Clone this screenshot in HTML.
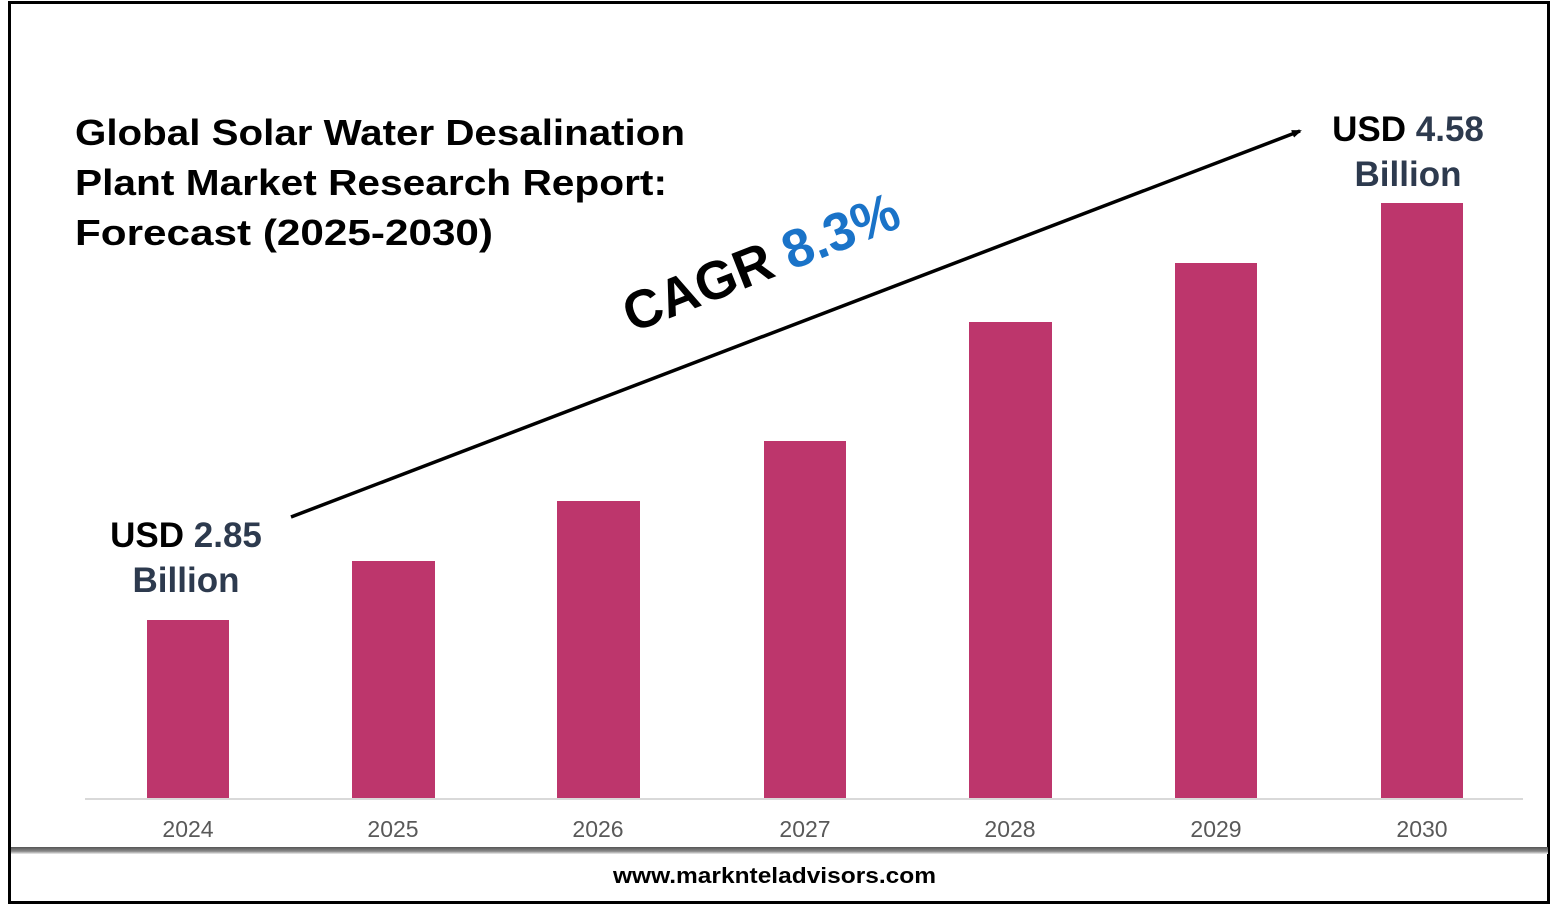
<!DOCTYPE html>
<html><head><style>html,body{margin:0;padding:0;background:#fff}svg{display:block}</style></head>
<body>
<svg width="1557" height="906" xmlns="http://www.w3.org/2000/svg" font-family="Liberation Sans, sans-serif">
<defs>
<linearGradient id="sh" x1="0" y1="0" x2="0" y2="1">
<stop offset="0" stop-color="#555"/><stop offset="0.6" stop-color="#888"/><stop offset="1" stop-color="#eee"/>
</linearGradient>
<marker id="ah" markerWidth="10" markerHeight="8" refX="8" refY="4" orient="auto" markerUnits="userSpaceOnUse">
<path d="M0,0 L10,4 L0,8 z" fill="#000"/>
</marker>
</defs>
<rect x="0" y="0" width="1557" height="906" fill="#fff"/>
<rect x="9.5" y="2.5" width="1539" height="900" fill="none" stroke="#000" stroke-width="3"/>
<rect x="11" y="847" width="1537" height="7" fill="url(#sh)"/>
<line x1="85" y1="799" x2="1523" y2="799" stroke="#d9d9d9" stroke-width="2"/>
<g fill="#bd366c">
<rect x="147" y="620" width="82" height="178"/>
<rect x="352" y="561" width="83" height="237"/>
<rect x="557" y="501" width="83" height="297"/>
<rect x="764" y="441" width="82" height="357"/>
<rect x="969" y="322" width="83" height="476"/>
<rect x="1175" y="263" width="82" height="535"/>
<rect x="1381" y="203" width="82" height="595"/>
</g>
<g fill="#595959" font-size="23" text-anchor="middle">
<text x="188" y="837">2024</text><text x="393" y="837">2025</text><text x="598" y="837">2026</text>
<text x="805" y="837">2027</text><text x="1010" y="837">2028</text><text x="1216" y="837">2029</text><text x="1422" y="837">2030</text>
</g>
<g font-size="36" font-weight="bold" fill="#000">
<text x="75" y="145" textLength="610" lengthAdjust="spacingAndGlyphs">Global Solar Water Desalination</text>
<text x="75" y="195" textLength="592" lengthAdjust="spacingAndGlyphs">Plant Market Research Report:</text>
<text x="75" y="245" textLength="418" lengthAdjust="spacingAndGlyphs">Forecast (2025-2030)</text>
</g>
<line x1="291" y1="517" x2="1300" y2="131" stroke="#000" stroke-width="3.5" marker-end="url(#ah)"/>
<text transform="translate(632,333) rotate(-21.5)" font-size="54" font-weight="bold" textLength="292" lengthAdjust="spacingAndGlyphs"><tspan fill="#000">CAGR </tspan><tspan fill="#1a73c8">8.3%</tspan></text>
<g font-size="35" font-weight="bold" text-anchor="middle" fill="#2d3a4e">
<text x="186" y="547"><tspan fill="#000">USD </tspan>2.85</text>
<text x="186" y="592">Billion</text>
<text x="1408" y="141"><tspan fill="#000">USD </tspan>4.58</text>
<text x="1408" y="186">Billion</text>
</g>
<text x="613" y="883" font-size="22" font-weight="bold" fill="#000" textLength="323" lengthAdjust="spacingAndGlyphs">www.marknteladvisors.com</text>
</svg>
</body></html>
